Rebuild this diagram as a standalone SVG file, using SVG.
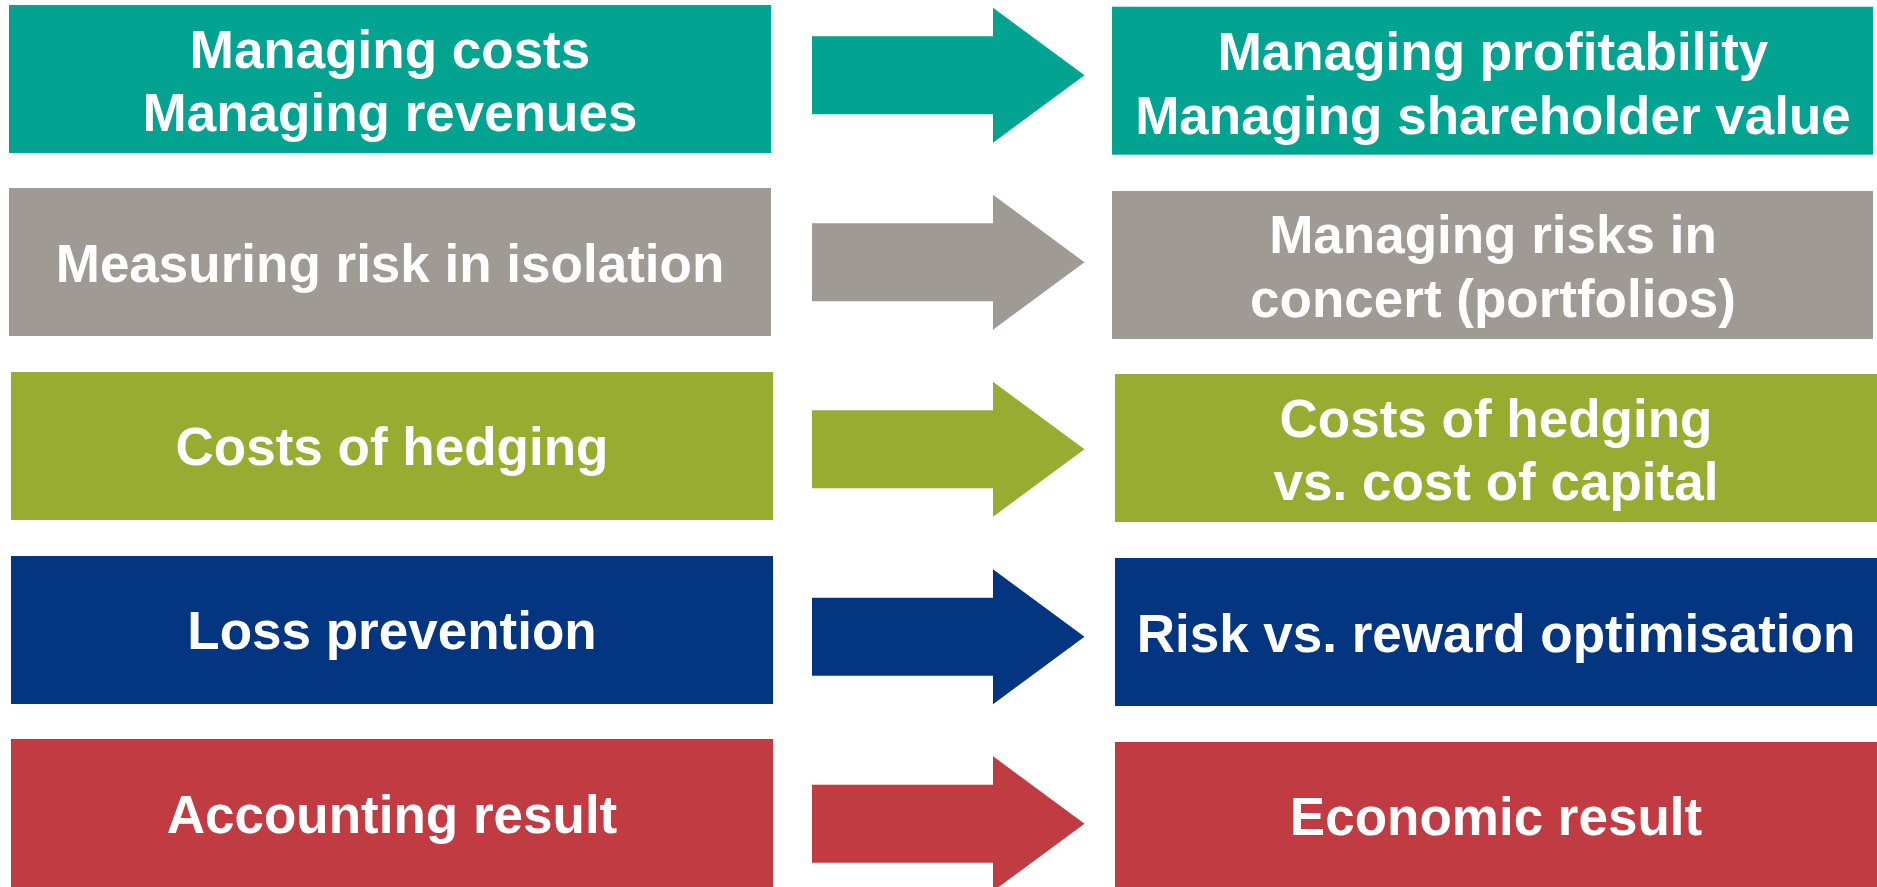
<svg xmlns="http://www.w3.org/2000/svg" xmlns:xlink="http://www.w3.org/1999/xlink" width="1877" height="887" viewBox="0 0 1877 887">
  <style>
    text { font-family: "Liberation Sans", Arial, sans-serif; font-weight: bold; font-size: 53px; fill: #ffffff; text-anchor: middle; }
    .teal { fill: #02A391; }
    .gray { fill: #9F9A93; }
    .olive { fill: #99AC32; }
    .navy { fill: #043581; }
    .red { fill: #C03C42; }
  </style>
  <defs>
    <path id="arrow" d="M812,-39 H993 V-67.5 L1084.5,0 L993,67.5 V39 H812 Z"/>
  </defs>
  <rect width="1877" height="887" fill="#ffffff"/>

  <g id="connectors">
    <use xlink:href="#arrow" href="#arrow" class="teal" transform="translate(0,75.3)"/>
    <use xlink:href="#arrow" href="#arrow" class="gray" transform="translate(0,262.3)"/>
    <use xlink:href="#arrow" href="#arrow" class="olive" transform="translate(0,449.3)"/>
    <use xlink:href="#arrow" href="#arrow" class="navy" transform="translate(0,636.7)"/>
    <use xlink:href="#arrow" href="#arrow" class="red" transform="translate(0,823.7)"/>
  </g>

  <g id="left1">
    <rect class="teal" x="9" y="5" width="762" height="148"/>
    <text x="390" y="68">Managing costs</text>
    <text x="390" y="131">Managing revenues</text>
  </g>
  <g id="right1">
    <rect class="teal" x="1112" y="6.7" width="761" height="148"/>
    <text x="1493" y="69.5">Managing profitability</text>
    <text x="1493" y="133.5">Managing shareholder value</text>
  </g>

  <g id="left2">
    <rect class="gray" x="9" y="188" width="762" height="148"/>
    <text x="390" y="282">Measuring risk in isolation</text>
  </g>
  <g id="right2">
    <rect class="gray" x="1112" y="191" width="761" height="148"/>
    <text x="1493" y="252.7">Managing risks in</text>
    <text x="1493" y="316.7">concert (portfolios)</text>
  </g>

  <g id="left3">
    <rect class="olive" x="11" y="372" width="762" height="148"/>
    <text x="392" y="465.3">Costs of hedging</text>
  </g>
  <g id="right3">
    <rect class="olive" x="1115" y="374" width="762" height="148"/>
    <text x="1496" y="436.7">Costs of hedging</text>
    <text x="1496" y="500">vs. cost of capital</text>
  </g>

  <g id="left4">
    <rect class="navy" x="11" y="556" width="762" height="148"/>
    <text x="392" y="649.3">Loss prevention</text>
  </g>
  <g id="right4">
    <rect class="navy" x="1115" y="558" width="762" height="148"/>
    <text x="1496" y="652">Risk vs. reward optimisation</text>
  </g>

  <g id="left5">
    <rect class="red" x="11" y="739" width="762" height="148"/>
    <text x="392" y="833">Accounting result</text>
  </g>
  <g id="right5">
    <rect class="red" x="1115" y="742" width="762" height="145"/>
    <text x="1496" y="835">Economic result</text>
  </g>
</svg>
